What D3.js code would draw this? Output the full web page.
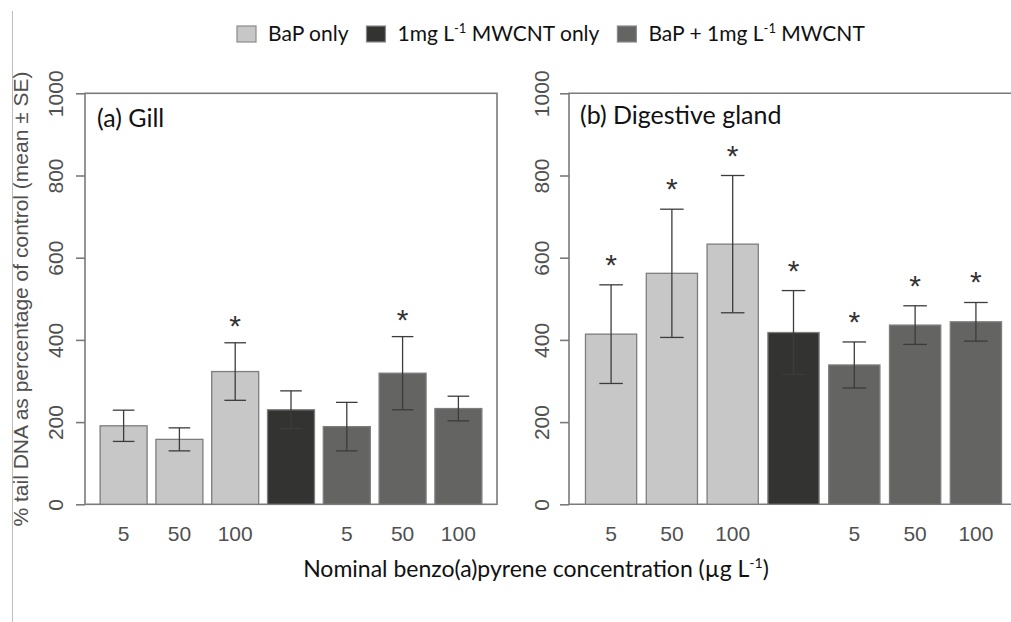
<!DOCTYPE html>
<html>
<head>
<meta charset="utf-8">
<script src="https://cdn.jsdelivr.net/npm/d3@7"></script>
<style>
  body { margin: 0; background: #fff; }
  svg { display: block; }
</style>
</head>
<body>
<svg id="chart" width="1011" height="622"></svg>
<script>
// Bar labels (nominal BaP concentration, ug/L); the MWCNT-only bar has none
const concLabels = ["5", "50", "100", "", "5", "50", "100"];
const treatments = ["BaP only", "BaP only", "BaP only", "MWCNT only", "BaP + MWCNT", "BaP + MWCNT", "BaP + MWCNT"];

// (a) Gill - % tail DNA as % of control
const gillMean = [191, 158, 323, 230, 189, 319, 233];
const gillSE   = [38, 28, 70, 46, 59, 89, 30];
const gillSig  = [false, false, true, false, false, true, false];

// (b) Digestive gland
const glandMean = [414, 562, 633, 418, 339, 436, 444];
const glandSE   = [120, 156, 167, 102, 56, 47, 47];
const glandSig  = [true, true, true, true, true, true, true];

const yTicks = [0, 200, 400, 600, 800, 1000];

const svg = d3.select("#chart");
const R_FONT = "'Liberation Sans', Arial, sans-serif";
const C_FONT = "Lato, 'Open Sans', sans-serif";

const fill = d3.scaleOrdinal()
  .domain(["BaP only", "MWCNT only", "BaP + MWCNT"])
  .range(["#c6c7c6", "#333331", "#646463"]);

const y = d3.scaleLinear().domain([0, 1000]).range([504.3, 93.3]);

// thin grey border line at far left (part of the scanned figure)
svg.append("line")
  .attr("x1", 12.5).attr("x2", 12.5).attr("y1", 11).attr("y2", 622)
  .attr("stroke", "#bdbdbd").attr("stroke-width", 1);

function drawPanel(opts) {
  const x = d3.scaleBand()
    .domain(d3.range(concLabels.length))
    .range([opts.left, opts.right])
    .paddingInner(0.158)
    .paddingOuter(0.271);

  const g = svg.append("g");

  // box / frame
  if (opts.closed) {
    g.append("rect")
      .attr("x", opts.left).attr("y", y(1000))
      .attr("width", opts.right - opts.left).attr("height", y(0) - y(1000))
      .attr("fill", "none").attr("stroke", "#7a7a7a").attr("stroke-width", 1.6);
  } else {
    g.append("path")
      .attr("d", `M${opts.right},${y(1000)}H${opts.left}V${y(0)}H${opts.right}`)
      .attr("fill", "none").attr("stroke", "#7a7a7a").attr("stroke-width", 1.6);
  }

  // y axis, R style with rotated labels
  const yAxis = g.append("g")
    .attr("transform", `translate(${opts.left},0)`)
    .call(d3.axisLeft(y).tickValues(yTicks).tickFormat(d3.format("d")).tickSize(9).tickSizeOuter(0));
  yAxis.select(".domain").remove();
  yAxis.selectAll(".tick line").attr("stroke", "#7a7a7a").attr("stroke-width", 1.6);
  yAxis.selectAll(".tick text")
    .attr("x", null).attr("dy", null)
    .attr("text-anchor", "middle")
    .attr("transform", `translate(${-opts.labelOff},0) rotate(-90)`)
    .attr("fill", "#505050")
    .style("font-family", R_FONT)
    .style("font-size", "21px");

  // bars
  g.selectAll(".bar")
    .data(opts.mean)
    .join("rect")
    .attr("x", (d, i) => x(i))
    .attr("y", d => y(d))
    .attr("width", x.bandwidth())
    .attr("height", d => y(0) - y(d))
    .attr("fill", (d, i) => fill(treatments[i]))
    .attr("stroke", "#7d7d7d")
    .attr("stroke-width", 1.3);

  // error bars
  const cap = x.bandwidth() * 0.23;
  const eb = g.selectAll(".err")
    .data(opts.mean.map((m, i) => ({ i, m, se: opts.se[i] })))
    .join("g");
  eb.append("line")
    .attr("x1", d => x(d.i) + x.bandwidth() / 2)
    .attr("x2", d => x(d.i) + x.bandwidth() / 2)
    .attr("y1", d => y(d.m - d.se))
    .attr("y2", d => y(d.m + d.se));
  eb.append("line")
    .attr("x1", d => x(d.i) + x.bandwidth() / 2 - cap)
    .attr("x2", d => x(d.i) + x.bandwidth() / 2 + cap)
    .attr("y1", d => y(d.m + d.se)).attr("y2", d => y(d.m + d.se));
  eb.append("line")
    .attr("x1", d => x(d.i) + x.bandwidth() / 2 - cap)
    .attr("x2", d => x(d.i) + x.bandwidth() / 2 + cap)
    .attr("y1", d => y(d.m - d.se)).attr("y2", d => y(d.m - d.se));
  eb.selectAll("line").attr("stroke", "#3c3c3c").attr("stroke-width", 1.3);

  // significance asterisks
  g.selectAll(".sig")
    .data(opts.mean.map((m, i) => ({ i, m, se: opts.se[i], s: opts.sig[i] })).filter(d => d.s))
    .join("text")
    .attr("x", d => x(d.i) + x.bandwidth() / 2)
    .attr("y", d => y(d.m + d.se) - opts.starOff)
    .attr("text-anchor", "middle")
    .attr("fill", "#333")
    .style("font-family", R_FONT)
    .style("font-size", "30px")
    .text("*");

  // x tick labels
  g.selectAll(".xl")
    .data(concLabels)
    .join("text")
    .attr("x", (d, i) => x(i) + x.bandwidth() / 2)
    .attr("y", 541)
    .attr("text-anchor", "middle")
    .attr("fill", "#505050")
    .style("font-family", R_FONT)
    .style("font-size", "21px")
    .text(d => d);

  // panel label
  g.append("rect")
    .attr("x", opts.left + 2).attr("y", y(1000) + 2)
    .attr("width", opts.labelBox).attr("height", 44)
    .attr("fill", "#fff");
  g.append("text")
    .attr("x", opts.labelX).attr("y", opts.labelY)
    .attr("fill", "#111")
    .style("font-family", C_FONT)
    .style("font-size", "25px")
    .text(opts.label);
}

drawPanel({ left: 85, right: 497, closed: true, labelOff: 22,
  mean: gillMean, se: gillSE, sig: gillSig, starOff: 7,
  label: "(a) Gill", labelX: 97, labelY: 127, labelBox: 84 });

drawPanel({ left: 569, right: 1018, closed: false, labelOff: 20,
  mean: glandMean, se: glandSE, sig: glandSig, starOff: 10,
  label: "(b) Digestive gland", labelX: 580, labelY: 124, labelBox: 230 });

// y axis title
svg.append("text")
  .attr("transform", "translate(28,299) rotate(-90)")
  .attr("text-anchor", "middle")
  .attr("fill", "#505050")
  .style("font-family", R_FONT)
  .style("font-size", "21px")
  .text("% tail DNA as percentage of control (mean \u00b1 SE)");

// x axis title
const xt = svg.append("text")
  .attr("x", 536).attr("y", 577)
  .attr("text-anchor", "middle")
  .attr("fill", "#111")
  .style("font-family", C_FONT)
  .style("font-size", "23px");
xt.append("tspan").text("Nominal benzo(a)pyrene concentration (\u00b5g L");
xt.append("tspan").attr("dy", -9).style("font-size", "14px").text("-1");
xt.append("tspan").attr("dy", 9).text(")");

// legend
const legendItems = [
  { key: "BaP only", parts: ["BaP only"] },
  { key: "MWCNT only", parts: ["1mg L", "-1", " MWCNT only"] },
  { key: "BaP + MWCNT", parts: ["BaP + 1mg L", "-1", " MWCNT"] }
];
let lx = 237;
legendItems.forEach(item => {
  svg.append("rect")
    .attr("x", lx).attr("y", 26).attr("width", 19).attr("height", 16)
    .attr("fill", fill(item.key)).attr("stroke", "#8a8a8a").attr("stroke-width", 1.2);
  const t = svg.append("text")
    .attr("x", lx + 31).attr("y", 41)
    .attr("fill", "#111")
    .style("font-family", C_FONT)
    .style("font-size", "21px");
  item.parts.forEach((p, k) => {
    const ts = t.append("tspan").text(p);
    if (k === 1) ts.attr("dy", -8).style("font-size", "13px");
    if (k === 2) ts.attr("dy", 8);
  });
  lx += 31 + t.node().getComputedTextLength() + 18;
});
</script>
</body>
</html>
